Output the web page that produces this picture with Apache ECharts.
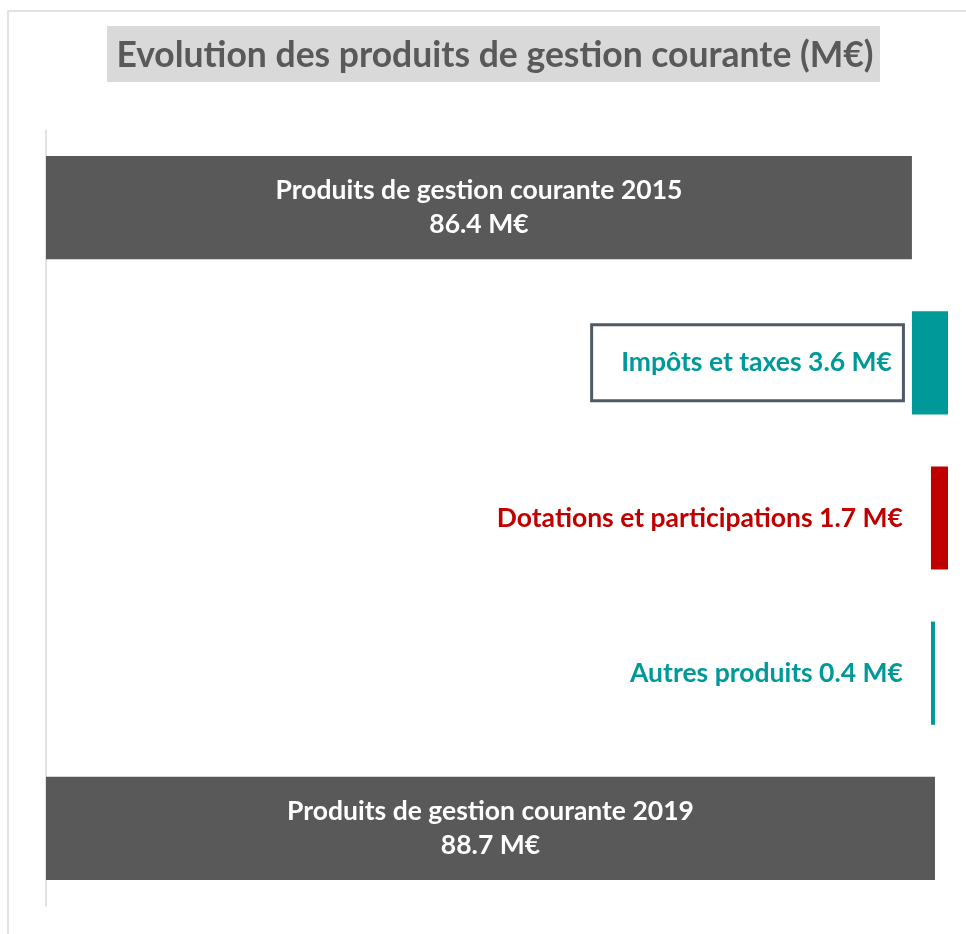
<!DOCTYPE html>
<html>
<head>
<meta charset="utf-8">
<title>Evolution des produits de gestion courante</title>
<script src="https://cdn.jsdelivr.net/npm/echarts@6/dist/echarts.min.js"></script>
<style>
    html, body { margin: 0; padding: 0; background: #ffffff; }
    #main { width: 966px; height: 934px; }
</style>
</head>
<body>
<div id="main"></div>
<script>
// données (M€)
const categories = [
    'Produits de gestion courante 2015',
    'Impôts et taxes',
    'Dotations et participations',
    'Autres produits',
    'Produits de gestion courante 2019'
];
const amounts = [86.4, 3.6, -1.7, 0.4, 88.7];
const kinds = ['total', 'delta', 'delta', 'delta', 'total'];

// couleurs
const gris = '#595959';
const turquoise = '#009999';
const rouge = '#C00000';
const fontName = 'Lato';

// base invisible + partie visible de la cascade
let running = 0;
let baseData = [];
let barData = [];
amounts.forEach(function (v, i) {
    if (kinds[i] === 'total') {
        baseData.push(0);
        barData.push(v);
        running = v;
    } else {
        baseData.push(v < 0 ? running + v : running);
        barData.push(Math.abs(v));
        running = running + v;
    }
});

function barColor(i) {
    if (kinds[i] === 'total') return gris;
    return amounts[i] < 0 ? rouge : turquoise;
}

function labelFor(i) {
    let val = Math.abs(amounts[i]).toFixed(1);
    if (kinds[i] === 'total') {
        return {
            show: true,
            position: 'inside',
            color: '#ffffff',
            fontFamily: fontName,
            fontWeight: 'bold',
            fontSize: 26.5,
            lineHeight: 34,
            padding: [4, 0, 0, 0],
            formatter: categories[i] + '\n' + val + ' M€'
        };
    }
    let lab = {
        show: true,
        position: 'left',
        distance: 28,
        color: barColor(i),
        fontFamily: fontName,
        fontWeight: 'bold',
        fontSize: 26.5,
        formatter: categories[i] + ' ' + val + ' M€'
    };
    if (i === 1) {
        lab.distance = 10;
        lab.backgroundColor = '#ffffff';
        lab.borderColor = '#4f5a64';
        lab.borderWidth = 3;
        lab.padding = [27, 10, 19, 28];
    }
    return lab;
}

let chart = echarts.init(document.getElementById('main'));
let option = {
    animation: false,
    backgroundColor: '#ffffff',
    graphic: [
        {
            type: 'rect',
            z: -10,
            silent: true,
            shape: { x: 8, y: 11, width: 1200, height: 1200 },
            style: { fill: 'none', stroke: '#d9d9d9', lineWidth: 1.5 }
        },
        {
            type: 'rect',
            silent: true,
            shape: { x: 107, y: 26, width: 773, height: 56 },
            style: { fill: '#d9d9d9' }
        },
        {
            type: 'text',
            silent: true,
            x: 495,
            y: 56,
            style: {
                text: 'Evolution des produits de gestion courante (M€)',
                fill: gris,
                font: 'bold 35.5px ' + fontName,
                align: 'center',
                verticalAlign: 'middle'
            }
        }
    ],
    grid: {
        left: 46,
        top: 130,
        width: 902,
        height: 776,
        containLabel: false
    },
    xAxis: {
        type: 'value',
        min: 0,
        max: 90,
        show: false
    },
    yAxis: {
        type: 'category',
        inverse: true,
        data: categories,
        axisLine: { show: true, lineStyle: { color: '#d9d9d9', width: 1.5 } },
        axisTick: { show: false },
        axisLabel: { show: false },
        splitLine: { show: false }
    },
    series: [
        {
            name: 'base',
            type: 'bar',
            stack: 'cascade',
            silent: true,
            barCategoryGap: '33.5%',
            itemStyle: { color: 'transparent' },
            data: baseData
        },
        {
            name: 'montant',
            type: 'bar',
            stack: 'cascade',
            barCategoryGap: '33.5%',
            data: barData.map(function (v, i) {
                return {
                    value: v,
                    itemStyle: { color: barColor(i) },
                    label: labelFor(i)
                };
            })
        }
    ]
};
chart.setOption(option);
</script>
</body>
</html>
